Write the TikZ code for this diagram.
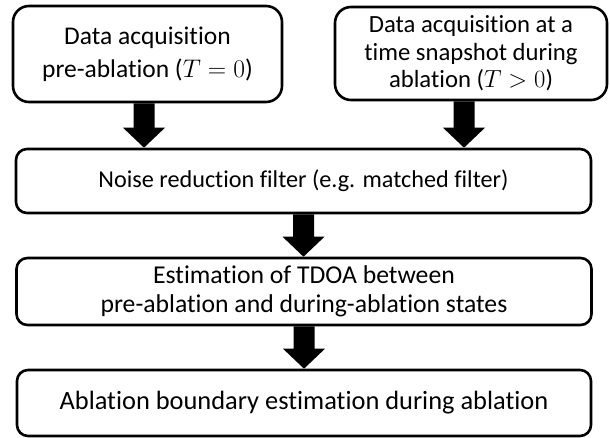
\documentclass[tikz,border=0pt]{standalone}
\usepackage{fontspec}
\setmainfont[Ligatures=NoCommon]{Carlito}
\usepackage{fix-cm}
\usetikzlibrary{calc}
\tikzset{
  stepbox/.style={draw=black, line width=2.6pt, rounded corners=#1, fill=white,
    align=center, inner sep=0pt},
  stepbox/.default=11pt,
  fatarrow/.style={fill=black}
}
\newcommand{\fatarrow}[2]{%
  \fill[fatarrow] let \p1=(#1), \p2=(#2) in
    ({\x1-10.5pt},\y1) -- ({\x1+10.5pt},\y1) -- ({\x1+10.5pt},{\y2+20pt}) --
    ({\x1+21pt},{\y2+20pt}) -- (\x1,\y2) -- ({\x1-21pt},{\y2+20pt}) --
    ({\x1-10.5pt},{\y2+20pt}) -- cycle;}
\begin{document}
\begin{tikzpicture}[x=1pt,y=-1pt]
\useasboundingbox (0,0) rectangle (610,438);
\node[stepbox=16pt, minimum width=269pt, minimum height=96pt,
  font=\fontsize{25.5}{33}\selectfont] (b1) at (147.5,54)
  {Data acquisition\\pre-ablation ($T=0$)};
\node[stepbox=16pt, minimum width=272pt, minimum height=93pt,
  font=\fontsize{24.7}{27.5}\selectfont] (b2) at (471,53.5)
  {Data acquisition at a\\time snapshot during\\ablation ($T>0$)};
\node[stepbox, minimum width=575pt, minimum height=64pt,
  font=\fontsize{24.2}{30}\selectfont] (b3) at (303.5,181)
  {Noise reduction filter (e.g. matched filter)};
\node[stepbox, minimum width=575pt, minimum height=67pt,
  font=\fontsize{25.7}{28.5}\selectfont] (b4) at (304,291.5)
  {Estimation of TDOA between\\pre-ablation and during-ablation states};
\node[stepbox, minimum width=574pt, minimum height=66pt,
  font=\fontsize{26.4}{30}\selectfont] (b5) at (304,403)
  {Ablation boundary estimation during ablation};
\coordinate (a1s) at ([xshift=-3.5pt]b1.south);
\coordinate (a2s) at ([xshift=-7pt]b2.south);
\fatarrow{a1s}{b3.north -| a1s}
\fatarrow{a2s}{b3.north -| a2s}
\fatarrow{b3.south}{b4.north}
\fatarrow{b4.south}{b5.north}
\end{tikzpicture}
\end{document}
